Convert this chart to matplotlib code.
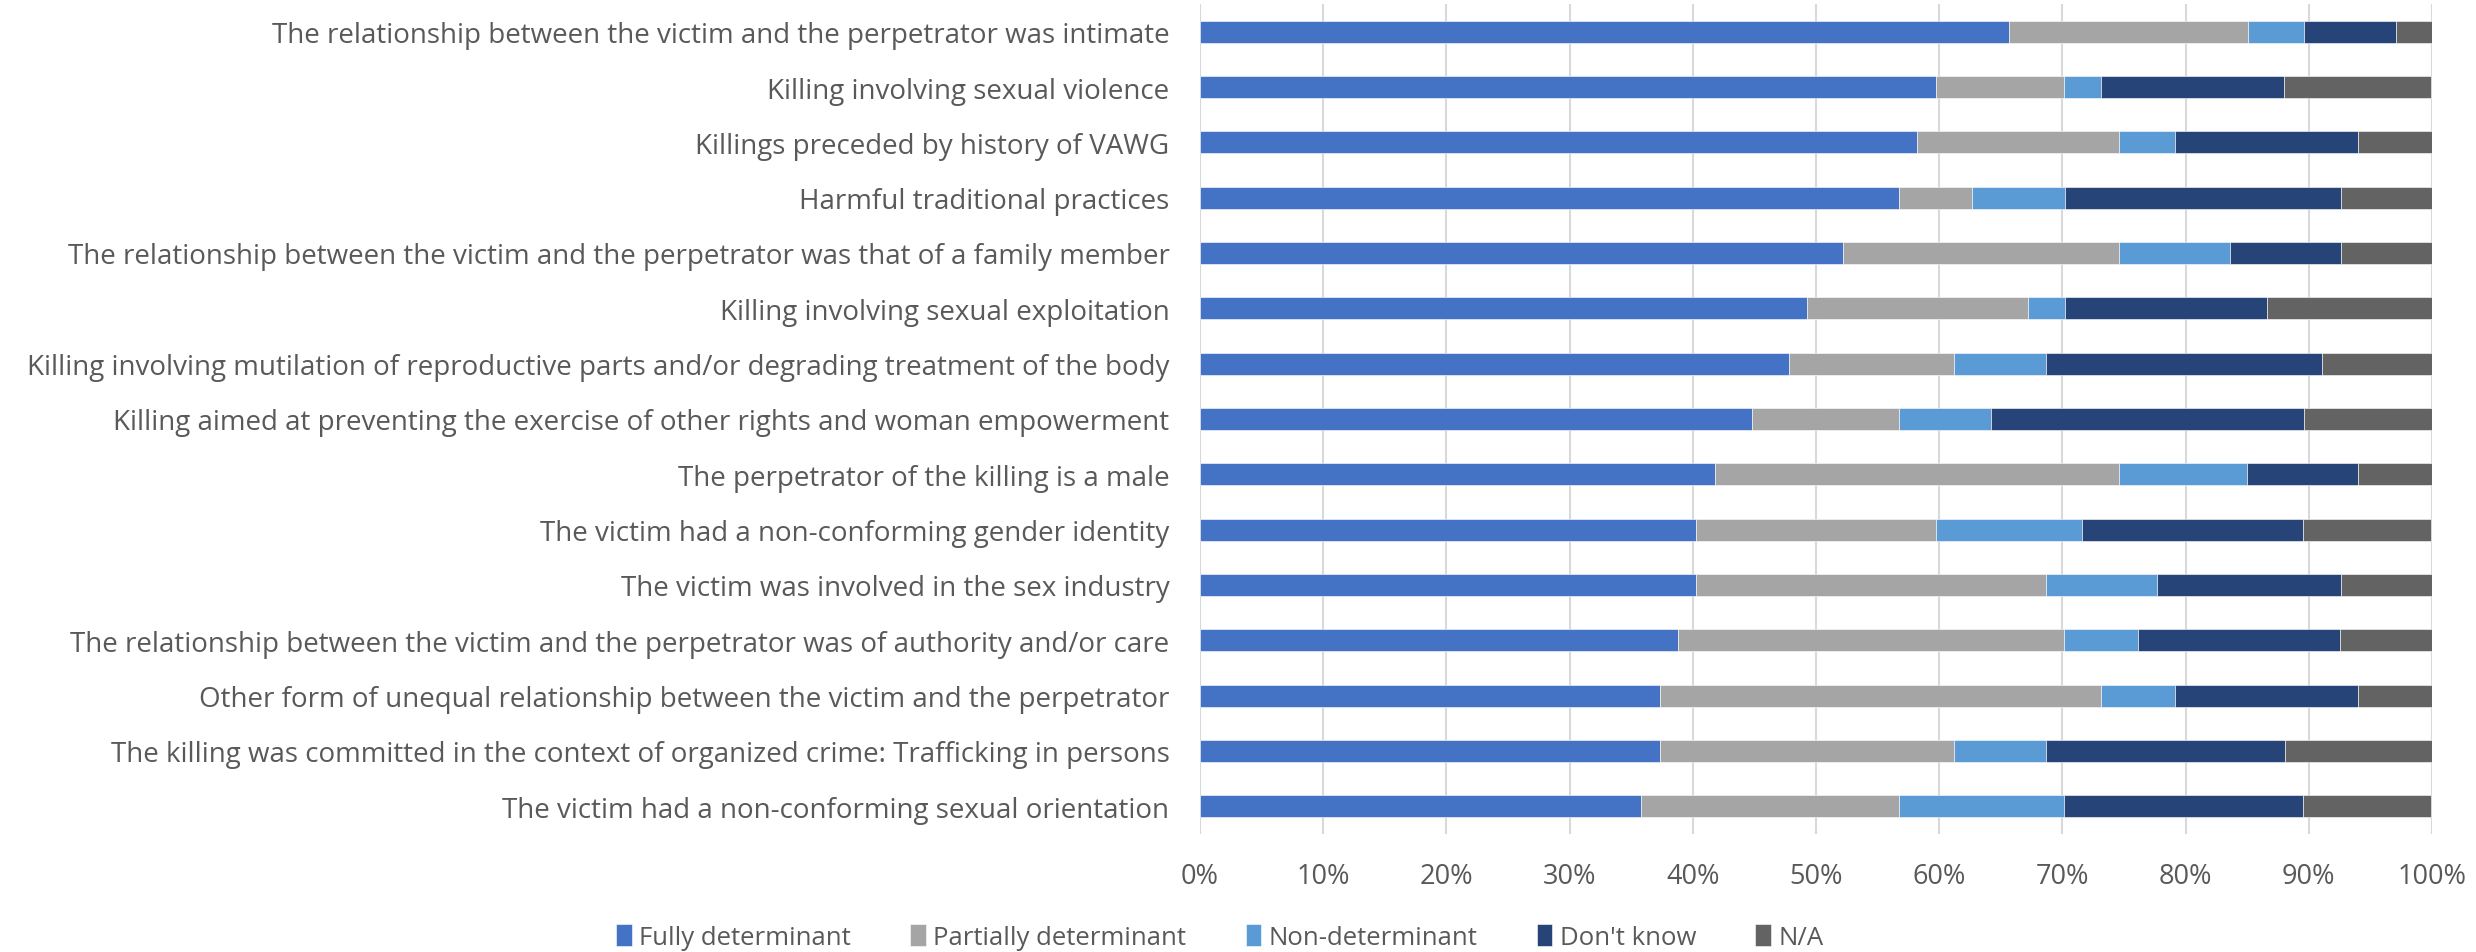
import matplotlib
matplotlib.use("Agg")
import matplotlib.pyplot as plt
from matplotlib.ticker import PercentFormatter, MultipleLocator

plt.rcParams['font.family'] = ['Open Sans', 'DejaVu Sans']

categories = [
    "The relationship between the victim and the perpetrator was intimate",
    "Killing involving sexual violence",
    "Killings preceded by history of VAWG",
    "Harmful traditional practices",
    "The relationship between the victim and the perpetrator was that of a family member",
    "Killing involving sexual exploitation",
    "Killing involving mutilation of reproductive parts and/or degrading treatment of the body",
    "Killing aimed at preventing the exercise of other rights and woman empowerment",
    "The perpetrator of the killing is a male",
    "The victim had a non-conforming gender identity",
    "The victim was involved in the sex industry",
    "The relationship between the victim and the perpetrator was of authority and/or care",
    "Other form of unequal relationship between the victim and the perpetrator",
    "The killing was committed in the context of organized crime: Trafficking in persons",
    "The victim had a non-conforming sexual orientation",
]

series_names = ["Fully determinant", "Partially determinant", "Non-determinant", "Don't know", "N/A"]

fully = [65.7, 59.7, 58.2, 56.7, 52.2, 49.3, 47.8, 44.8, 41.8, 40.3, 40.3, 38.8, 37.3, 37.3, 35.8]
partially = [19.4, 10.4, 16.4, 6.0, 22.4, 17.9, 13.4, 11.9, 32.8, 19.4, 28.4, 31.3, 35.8, 23.9, 20.9]
non_det = [4.5, 3.0, 4.5, 7.5, 9.0, 3.0, 7.5, 7.5, 10.4, 11.9, 9.0, 6.0, 6.0, 7.5, 13.4]
dont_know = [7.5, 14.9, 14.9, 22.4, 9.0, 16.4, 22.4, 25.4, 9.0, 17.9, 14.9, 16.4, 14.9, 19.4, 19.4]
na = [3.0, 11.9, 6.0, 7.5, 7.5, 13.4, 9.0, 10.4, 6.0, 10.4, 7.5, 7.5, 6.0, 11.9, 10.4]

colors = ["#4472C4", "#A5A5A5", "#5B9BD5", "#264478", "#636363"]
text_color = "#595959"

fig = plt.figure(figsize=(24.76, 9.53), dpi=100)
ax = fig.add_axes([1200 / 2476, 118 / 953, 1232 / 2476, 830 / 953])

y = list(range(len(categories)))
left = [0.0] * len(categories)
for name, vals, col in zip(series_names, [fully, partially, non_det, dont_know, na], colors):
    ax.barh(y, vals, left=left, height=0.4, color=col, label=name, zorder=3,
            edgecolor='white', linewidth=0.4)
    left = [l + v for l, v in zip(left, vals)]

ax.set_xlim(0, 100)
ax.set_ylim(len(categories) - 0.5, -0.5)
ax.set_yticks(y)
ax.set_yticklabels(categories)
ax.xaxis.set_major_locator(MultipleLocator(10))
ax.xaxis.set_major_formatter(PercentFormatter(decimals=0))
ax.grid(axis='x', color='#D9D9D9', linewidth=1.5, zorder=0)
ax.tick_params(axis='y', length=0, labelsize=20, colors=text_color, pad=22)
ax.tick_params(axis='x', length=0, labelsize=19.5, colors=text_color, pad=20)
for s in ax.spines.values():
    s.set_visible(False)

leg = fig.legend(loc='center', bbox_to_anchor=(1220 / 2476, 1 - 938 / 953), ncol=5,
                 frameon=False, fontsize=18.5, handlelength=0.6, handleheight=0.9,
                 handletextpad=0.3, columnspacing=2.3, labelcolor=text_color)

fig.savefig("out.png", dpi=100)
